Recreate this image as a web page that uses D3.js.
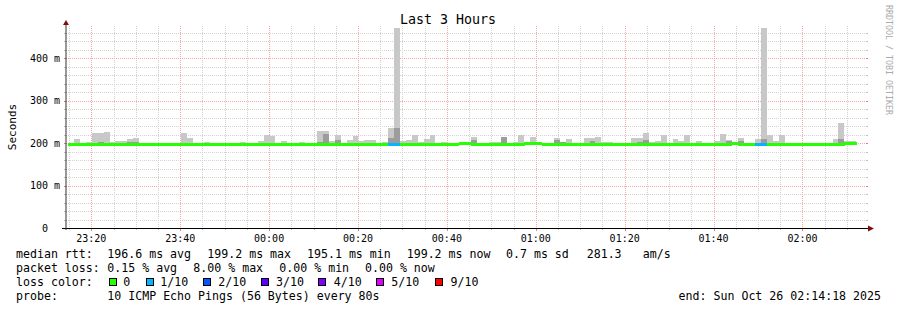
<!DOCTYPE html>
<html><head><meta charset="utf-8">
<script src="https://cdn.jsdelivr.net/npm/d3@7"></script>
<style>
html,body{margin:0;padding:0;background:#fff;}
svg{display:block;}
text{font-family:"DejaVu Sans Mono",monospace;fill:#000;}
</style></head>
<body><svg id="c" width="897" height="310"></svg>
<script>
// ---- data (ms), one entry per 80 s step ----
const rttMax = [201,209,201,202,223,223,226,202,205,205, 209,212,200,199,199,201,200,200,200,223,
 212,199,199,202,201,199,200,200,199,202, 200,200,205,220,217,200,205,199,201,202,
 200,200,228,228,205,220,201,207,217,205, 207,207,201,202,235,470,205,207,220,202,
 209,220,201,202,200,200,200,200,214,200, 200,202,202,214,201,202,220,200,214,200,
 199,199,212,202,209,200,200,212,212,214, 202,202,200,200,200,212,212,223,202,205,
 220,201,209,205,220,199,205,200,200,205, 221,207,200,212,200,200,209,470,220,205,
 220,200,200,200,200,200,200,200,200,209, 248,205,205];
const rttInner = [197,197,197,197,197,202,197,197,197,197, 202,203,197,197,197,197,200,200,200,201,
 197,197,197,197,197,197,197,197,197,197, 197,197,197,197,197,197,197,197,197,197,
 197,197,202,221,197,207,197,197,197,197, 197,201,197,197,212,235,197,197,197,197,
 197,197,197,197,197,197,197,197,207,197, 197,197,197,213,197,197,197,197,197,197,
 197,197,207,202,197,197,197,197,205,197, 197,197,197,197,197,197,202,207,197,197,
 197,197,197,197,197,197,197,197,197,197, 197,205,197,205,197,197,197,209,197,197,
 197,197,197,197,197,197,197,197,197,197, 209,203,197];
const rttMin = [195,195,195,195,195,195,195,195,195,195, 195,195,195,195,195,195,195,195,195,195,
 195,195,195,195,195,195,195,193,195,195, 195,195,195,195,195,195,195,195,195,195,
 195,195,195,195,195,195,195,195,195,195, 195,195,195,195,195,195,195,195,195,195,
 195,195,195,195,195,195,195,195,195,195, 195,195,195,195,195,195,195,195,195,195,
 195,195,195,195,195,195,195,195,195,195, 195,195,195,195,195,195,195,195,195,195,
 195,195,195,195,195,195,195,195,195,195, 195,195,195,195,195,195,195,195,195,195,
 195,195,195,195,195,195,195,195,195,195, 195,195,195];
const rttMedian = [196.8,196.8,196.8,196.8,196.8,196.8,196.8,196.8,196.8,196.8, 196.8,196.8,196.6,196.6,196.6,196.6,196.6,196.6,196.6,196.6,
 196.6,196.6,196.6,196.6,196.6,196.6,196.6,197.5,196.6,196.6, 196.6,196.6,196.6,196.6,196.6,196.6,196.6,196.6,196.6,196.6,
 196.6,196.6,196.6,196.6,196.6,196.6,196.6,196.6,196.6,196.6, 196.6,196.6,196.6,196.6,196.6,196.6,196.6,196.6,196.6,196.6,
 196.6,196.6,196.6,196.6,196.6,196.6,198.0,198.0,196.6,196.6, 196.6,196.6,196.6,196.6,196.6,196.6,196.6,199.0,199.0,198.5,
 196.0,196.0,196.6,196.6,196.6,196.6,196.6,196.6,196.6,196.6, 196.6,196.6,196.6,196.6,196.6,196.6,196.6,196.6,196.3,196.3,
 196.3,197.5,197.5,196.6,196.6,195.5,196.6,196.6,196.6,196.6, 196.6,196.6,198.5,196.6,196.6,196.6,196.6,196.6,196.6,196.6,
 196.6,196.6,196.6,196.6,196.6,196.6,196.6,196.6,196.6,196.6, 197.5,199.0,199.0];
const lossCount = [0,0,0,0,0,0,0,0,0,0, 0,0,0,0,0,0,0,0,0,0, 0,0,0,0,0,0,0,0,0,0,
 0,0,0,0,0,0,0,0,0,0, 0,0,0,0,0,0,0,0,0,0, 0,0,0,0,1,1,0,0,0,0,
 0,0,0,0,0,0,0,0,0,0, 0,0,0,0,0,0,0,0,0,0, 0,0,0,0,0,0,0,0,0,0,
 0,0,0,0,0,0,0,0,0,0, 0,0,0,0,0,0,0,0,0,0, 0,0,0,0,0,0,1,1,0,0,
 0,0,0,0,0,0,0,0,0,0, 0,0,0];
const lossLabels = ["0","1/10","2/10","3/10","4/10","5/10","9/10"];
const lossColors = ["#26ff00","#00b8ff","#0059ff","#5e00ff","#7e00ff","#dd00ff","#ff0000"];
const yTickValues = [0,100,200,300,400];
const yTickLabels = ["0","100 m","200 m","300 m","400 m"];
const startTime = Date.UTC(2025,9,25,23,14,18);
const endTime = Date.UTC(2025,9,26,2,14,18);
const firstStep = startTime + 28000;
const stepMs = 80000;

// ---- geometry ----
const X0 = 66, X1 = 866, Y0 = 228, Y1 = 26;
const svg = d3.select("#c");
const x = d3.scaleUtc().domain([startTime, endTime]).range([X0, X1]);
const y = d3.scaleLinear().domain([0, 475.3]).range([Y0, Y1]);

svg.append("defs").append("clipPath").attr("id","clip")
  .append("rect").attr("x",X0).attr("y",Y1).attr("width",X1-X0).attr("height",Y0-Y1);

// grid
const gGrid = svg.append("g").attr("shape-rendering","crispEdges");
const minorT = d3.utcMinute.every(5).range(new Date(startTime), new Date(endTime)).filter(d => d.getUTCMinutes() % 20 !== 0);
const majorT = d3.utcMinute.every(20).range(new Date(startTime), new Date(endTime));
const minorV = d3.range(20, 475, 20).filter(v => v % 100 !== 0);
const majorV = d3.range(100, 475, 100);
const minorCol = "#d2d2d2", majorCol = "#f4a8a8";
minorV.forEach(v => {
  const yy = Math.round(y(v)) + 0.5;
  gGrid.append("line").attr("x1",X0).attr("x2",X1).attr("y1",yy).attr("y2",yy).attr("stroke",minorCol).attr("stroke-dasharray","1,1");
  gGrid.append("line").attr("x1",X0-2).attr("x2",X0).attr("y1",yy).attr("y2",yy).attr("stroke","#c0c0c0");
  gGrid.append("line").attr("x1",X1).attr("x2",X1+2).attr("y1",yy).attr("y2",yy).attr("stroke","#c0c0c0");
});
minorT.forEach(t => {
  const xx = Math.round(x(t)) + 0.5;
  gGrid.append("line").attr("x1",xx).attr("x2",xx).attr("y1",Y1).attr("y2",Y0).attr("stroke",minorCol).attr("stroke-dasharray","1,1");
  gGrid.append("line").attr("x1",xx).attr("x2",xx).attr("y1",Y0).attr("y2",Y0+2).attr("stroke","#c0c0c0");
});
majorV.forEach(v => {
  const yy = Math.round(y(v)) + 0.5;
  gGrid.append("line").attr("x1",X0).attr("x2",X1).attr("y1",yy).attr("y2",yy).attr("stroke",majorCol).attr("stroke-dasharray","1,1");
  gGrid.append("line").attr("x1",X0-2).attr("x2",X0).attr("y1",yy).attr("y2",yy).attr("stroke","#e08080");
  gGrid.append("line").attr("x1",X1).attr("x2",X1+2).attr("y1",yy).attr("y2",yy).attr("stroke","#e08080");
});
majorT.forEach(t => {
  const xx = Math.round(x(t)) + 0.5;
  gGrid.append("line").attr("x1",xx).attr("x2",xx).attr("y1",Y1).attr("y2",Y0).attr("stroke",majorCol).attr("stroke-dasharray","1,1");
  gGrid.append("line").attr("x1",xx).attr("x2",xx).attr("y1",Y0).attr("y2",Y0+3).attr("stroke","#e08080");
});

// smoke
const gData = svg.append("g").attr("clip-path","url(#clip)").attr("shape-rendering","crispEdges");
const idx = d3.range(rttMax.length);
const sx = j => x(firstStep + j*stepMs), ex = j => x(firstStep + (j+1)*stepMs);
gData.selectAll("rect.light").data(idx).join("rect").attr("class","light")
  .attr("x", j => sx(j)).attr("width", j => ex(j)-sx(j))
  .attr("y", j => y(rttMax[j])).attr("height", j => y(rttMin[j]) - y(rttMax[j]))
  .attr("fill","#c8c8c8");
gData.selectAll("rect.dark").data(idx.filter(j => rttInner[j] > rttMedian[j] + 0.5)).join("rect").attr("class","dark")
  .attr("x", j => sx(j)).attr("width", j => ex(j)-sx(j))
  .attr("y", j => y(rttInner[j])).attr("height", j => y(rttMedian[j]) - y(rttInner[j]))
  .attr("fill","#9c9c9c");
// median line coloured by loss
gData.selectAll("rect.med").data(idx).join("rect").attr("class","med")
  .attr("x", j => sx(j)).attr("width", j => ex(j)-sx(j)+0.3)
  .attr("y", j => y(rttMedian[j]) - 1.5).attr("height", 3)
  .attr("fill", j => lossColors[lossCount[j]]);

// axes
svg.append("line").attr("x1",X0-4).attr("x2",X1+4).attr("y1",Y0+0.5).attr("y2",Y0+0.5).attr("stroke","#000").attr("shape-rendering","crispEdges");
svg.append("line").attr("x1",X0).attr("x2",X0).attr("y1",Y0+2).attr("y2",Y1-2).attr("stroke","#333");
svg.append("path").attr("d",`M${X1+2},${Y0-2.5} L${X1+8},${Y0+0.5} L${X1+2},${Y0+3.5} Z`).attr("fill","#7f1010");
svg.append("path").attr("d",`M${X0-3},${Y1-1} L${X0},${Y1-6} L${X0+3},${Y1-1} Z`).attr("fill","#7f1010");

// axis labels
svg.append("g").selectAll("text").data(yTickValues).join("text")
  .attr("x", (d,i) => i === 0 ? 48 : 60).attr("y", d => y(d) + 3.5)
  .attr("text-anchor","end").attr("font-size","10px").text((d,i) => yTickLabels[i]);
svg.append("g").selectAll("text").data(majorT).join("text")
  .attr("x", d => x(d)).attr("y", 241.5).attr("text-anchor","middle").attr("font-size","10px")
  .text(d => d3.utcFormat("%H:%M")(d));

// title, y label, watermark
svg.append("text").attr("x",448).attr("y",24).attr("text-anchor","middle").attr("font-size","13.3px").text("Last 3 Hours");
svg.append("text").attr("transform","translate(15.5,127) rotate(-90)").attr("text-anchor","middle").attr("font-size","11px").text("Seconds");
svg.append("text").attr("transform","translate(885.5,5) rotate(90)").attr("font-size","8.3px").style("fill","#aaaaaa").text("RRDTOOL / TOBI OETIKER");

// legend
const lf = "11.6px";
function t(xp, yp, s){ svg.append("text").attr("x",xp).attr("y",yp).attr("font-size",lf).style("white-space","pre").text(s); }
t(16,258,"median rtt:"); t(107.3,258,"196.6 ms avg"); t(207.3,258,"199.2 ms max"); t(307,258,"195.1 ms min");
t(406.7,258,"199.2 ms now"); t(506,258,"0.7 ms sd"); t(586.7,258,"281.3"); t(642.7,258,"am/s");
t(16,272,"packet loss:"); t(107.3,272,"0.15 % avg"); t(193.3,272,"8.00 % max"); t(279.3,272,"0.00 % min"); t(365,272,"0.00 % now");
t(16,286,"loss color:");
const boxX = [108.7,145.7,203,260.7,318.3,376,435];
const labX = [123.3,160.3,218.3,276,333.7,391.3,450.5];
lossLabels.forEach((l,i) => {
  svg.append("rect").attr("x",boxX[i]+0.5).attr("y",278.5).attr("width",7).attr("height",7)
    .attr("fill",lossColors[i]).attr("stroke","#000").attr("stroke-width",1).attr("shape-rendering","crispEdges");
  t(labX[i],286,l);
});
t(16,300,"probe:"); t(107.3,300,"10 ICMP Echo Pings (56 Bytes) every 80s");
svg.append("text").attr("x",881).attr("y",300).attr("text-anchor","end").attr("font-size",lf).text("end: Sun Oct 26 02:14:18 2025");
</script></body></html>
